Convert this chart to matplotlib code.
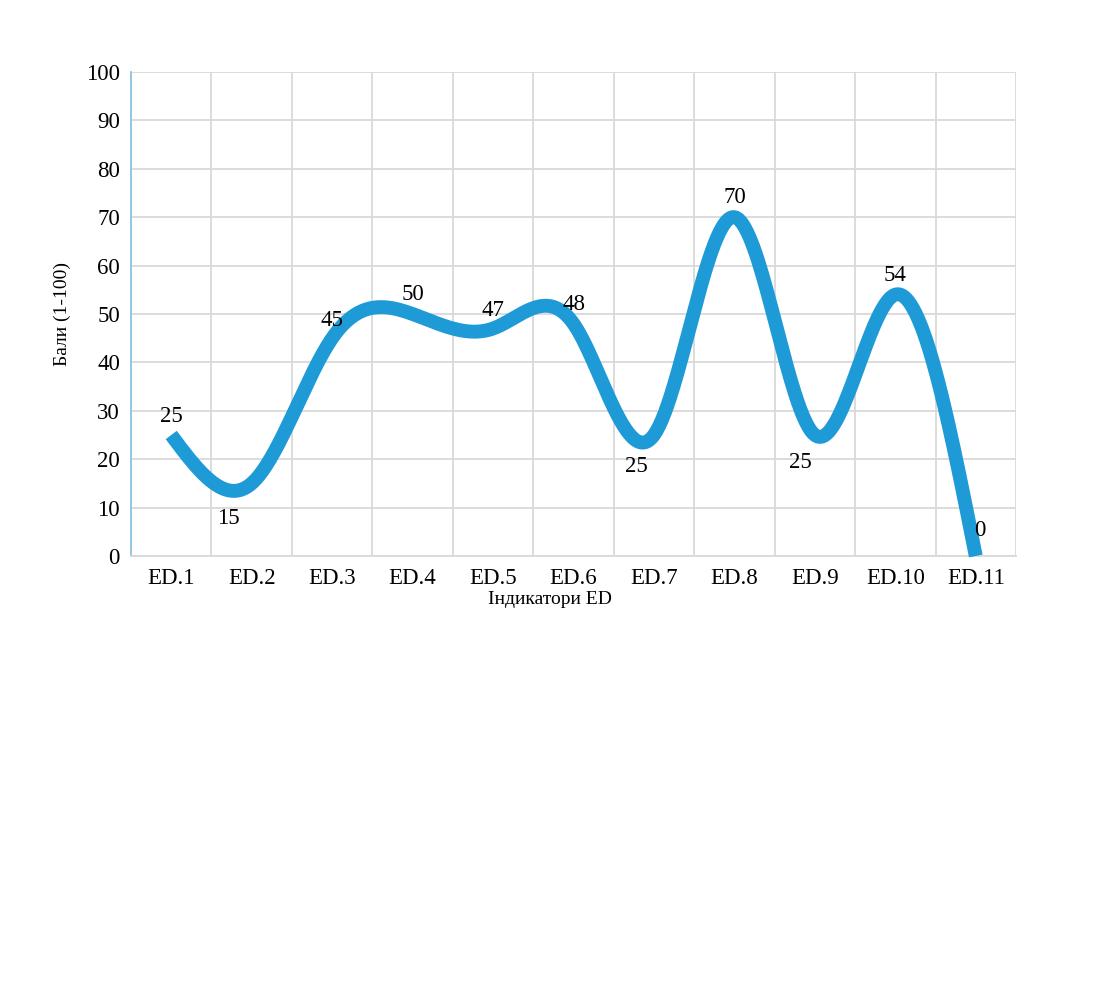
import numpy as np
import matplotlib
matplotlib.use("Agg")
import matplotlib.pyplot as plt

categories = ["ED.1", "ED.2", "ED.3", "ED.4", "ED.5", "ED.6", "ED.7", "ED.8", "ED.9", "ED.10", "ED.11"]
values = [25, 15, 45, 50, 47, 48, 25, 70, 25, 54, 0]
yticks = [0, 10, 20, 30, 40, 50, 60, 70, 80, 90, 100]
# label offsets in pixels (dx, dy) relative to each point
label_dx = [0, -23, 0, 0, 0, 0, -18, 0, -14, 0, 4]
label_dy = [19, -35, 18, 19, 18, 19, -31, 20, -28, 19, 26]

plt.rcParams['font.family'] = ['Liberation Serif', 'DejaVu Serif']


def natural_spline(y, n=60):
    y = np.asarray(y, dtype=float)
    k = len(y)
    A = np.zeros((k, k))
    b = np.zeros(k)
    A[0, 0] = 1
    A[-1, -1] = 1
    for i in range(1, k - 1):
        A[i, i - 1] = 1
        A[i, i] = 4
        A[i, i + 1] = 1
        b[i] = 6 * (y[i + 1] - 2 * y[i] + y[i - 1])
    M = np.linalg.solve(A, b)
    xs, ys = [], []
    for i in range(k - 1):
        t = np.linspace(0, 1, n, endpoint=(i == k - 2))
        seg = ((1 - t) * y[i] + t * y[i + 1]
               + ((1 - t) ** 3 - (1 - t)) * M[i] / 6
               + (t ** 3 - t) * M[i + 1] / 6)
        xs.append(i + t)
        ys.append(seg)
    return np.concatenate(xs), np.concatenate(ys)


fig = plt.figure(figsize=(11, 10.01), dpi=100)
ax = fig.add_axes([131 / 1100, 1 - 556 / 1001, 885 / 1100, 484 / 1001])

x = np.arange(len(categories))
sx, sy = natural_spline(values)
ax.plot(sx, sy, color="#1e9bd7", lw=10, solid_capstyle="butt", zorder=3, clip_on=False)

for i, v in enumerate(values):
    ax.annotate(str(v), (x[i], v), xytext=(label_dx[i], label_dy[i]),
                textcoords="offset pixels", ha="center", va="center",
                fontsize=16.5, color="black", zorder=4)

ax.set_xlim(-0.5, len(categories) - 0.5)
ax.set_ylim(0, 100)
ax.set_yticks(yticks)
ax.set_yticklabels([str(t) for t in yticks])
ax.set_xticks(x)
ax.set_xticklabels(categories)
ax.set_xticks(np.arange(-0.5, len(categories), 1.0), minor=True)

ax.grid(axis="y", which="major", color="#d9d9d9", lw=1.3)
ax.grid(axis="x", which="minor", color="#d9d9d9", lw=1.3)
ax.grid(axis="x", which="major", visible=False)
ax.set_axisbelow(True)

ax.tick_params(axis="both", which="both", length=0, labelsize=16.5)
ax.tick_params(axis="y", pad=8)
ax.tick_params(axis="x", pad=9)

for s in ["top", "right"]:
    ax.spines[s].set_visible(False)
ax.spines["left"].set_color("#8cc4e4")
ax.spines["left"].set_linewidth(1.3)
ax.spines["bottom"].set_color("#d9d9d9")
ax.spines["bottom"].set_linewidth(1.3)

ax.set_ylabel("Бали (1-100)", fontsize=14)
ax.set_xlabel("Індикатори ED", fontsize=14)
ax.yaxis.set_label_coords(-0.068, 0.5)
ax.xaxis.set_label_coords(0.473, -0.072)

fig.savefig("out.png", dpi=100)
